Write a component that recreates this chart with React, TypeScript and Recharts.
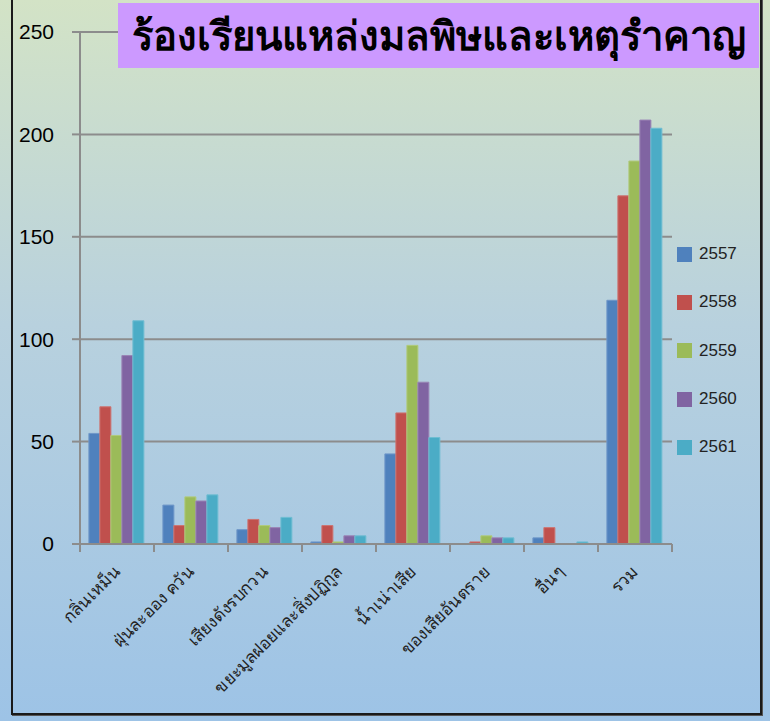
import { BarChart, Bar, XAxis, YAxis, CartesianGrid } from 'recharts';

const categories = [
  'กลิ่นเหม็น',
  'ฝุ่นละออง  ควัน',
  'เสียงดังรบกวน',
  'ขยะมูลฝอยและสิ่งปฏิกูล',
  'น้ำเน่าเสีย',
  'ของเสียอันตราย',
  'อื่นๆ',
  'รวม',
];

const y2557 = [54, 19, 7, 1, 44, 0, 3, 119];
const y2558 = [67, 9, 12, 9, 64, 1, 8, 170];
const y2559 = [53, 23, 9, 1, 97, 4, 0, 187];
const y2560 = [92, 21, 8, 4, 79, 3, 0, 207];
const y2561 = [109, 24, 13, 4, 52, 3, 1, 203];

const yTicks = [0, 50, 100, 150, 200, 250];

const series = [
  { key: '2557', values: y2557, color: '#4f81bd', stroke: '#6f97c9' },
  { key: '2558', values: y2558, color: '#c0504d', stroke: '#cd7471' },
  { key: '2559', values: y2559, color: '#9bbb59', stroke: '#b0ca7c' },
  { key: '2560', values: y2560, color: '#8064a2', stroke: '#9a84b5' },
  { key: '2561', values: y2561, color: '#4bacc6', stroke: '#6fbdd2' },
];

const data = categories.map((name, i) => {
  const row: Record<string, string | number> = { name };
  series.forEach((s) => {
    row[s.key] = s.values[i];
  });
  return row;
});

const CategoryTick = (props: any) => {
  const { x, y, payload, index } = props;
  const half = payload && payload.offset ? payload.offset : 37;
  return (
    <g>
      <line x1={x - half} y1={y - 8} x2={x - half} y2={y} stroke="#8c8c8c" strokeWidth={2} />
      {index === categories.length - 1 && (
        <line x1={x + half} y1={y - 8} x2={x + half} y2={y} stroke="#8c8c8c" strokeWidth={2} />
      )}
      <text
        x={x + 4}
        y={y + 21}
        textAnchor="end"
        transform={`rotate(-45, ${x + 4}, ${y + 21})`}
        fontSize={17}
        fill="#222"
        fontFamily="'Noto Sans', 'DejaVu Sans', sans-serif"
      >
        {payload.value}
      </text>
    </g>
  );
};

export default function App() {
  return (
    <div
      style={{
        position: 'relative',
        width: 770,
        height: 721,
        overflow: 'hidden',
        background: 'linear-gradient(to bottom, #d3e3c6 0%, #b8d1de 45%, #9dc3e6 100%)',
      }}
    >
      <style>{'body{margin:0}'}</style>
      <div
        style={{
          position: 'absolute',
          left: 11,
          top: -4,
          width: 751,
          height: 719,
          border: '2px solid #1a1a1a',
          boxSizing: 'border-box',
          boxShadow: '1px 1px 0 #555',
        }}
      />
      <div style={{ position: 'absolute', left: 0, top: 0 }}>
        <BarChart
          width={770}
          height={721}
          data={data}
          margin={{ top: 32, right: 98, left: 20, bottom: 173 }}
          barCategoryGap="12%"
          barGap={0}
        >
          <CartesianGrid vertical={false} stroke="#8c8c8c" strokeWidth={2} />
          <XAxis
            dataKey="name"
            axisLine={{ stroke: '#8c8c8c', strokeWidth: 2 }}
            tickLine={false}
            interval={0}
            tick={<CategoryTick />}
            height={4}
            tickSize={8}
            tickMargin={0}
          />
          <YAxis
            width={60}
            domain={[0, 250]}
            ticks={yTicks}
            axisLine={{ stroke: '#8c8c8c', strokeWidth: 2 }}
            tickLine={{ stroke: '#8c8c8c', strokeWidth: 2 }}
            tickSize={8}
            tickMargin={18}
            tick={{ fill: '#000', fontSize: 21, fontFamily: "'Liberation Sans', Arial, sans-serif" }}
          />
          {series.map((s) => (
            <Bar
              key={s.key}
              dataKey={s.key}
              fill={s.color}
              stroke={s.stroke}
              strokeWidth={1}
              isAnimationActive={false}
            />
          ))}
        </BarChart>
      </div>
      <div
        style={{
          position: 'absolute',
          left: 118,
          top: 3,
          width: 641,
          height: 65,
          background: '#cc99ff',
          display: 'flex',
          alignItems: 'center',
          justifyContent: 'center',
          fontSize: 40,
          fontWeight: 900,
          color: '#000',
          fontFamily: "'Noto Sans', 'DejaVu Sans', sans-serif",
        }}
      >
        ร้องเรียนแหล่งมลพิษและเหตุรำคาญ
      </div>
      <div style={{ position: 'absolute', left: 677, top: 230 }}>
        {series.map((s) => (
          <div key={s.key} style={{ display: 'flex', alignItems: 'center', height: 48.3 }}>
            <div style={{ width: 15, height: 15, background: s.color, marginRight: 7 }} />
            <span style={{ fontSize: 17, color: '#222', fontFamily: "'Liberation Sans', Arial, sans-serif" }}>
              {s.key}
            </span>
          </div>
        ))}
      </div>
    </div>
  );
}
